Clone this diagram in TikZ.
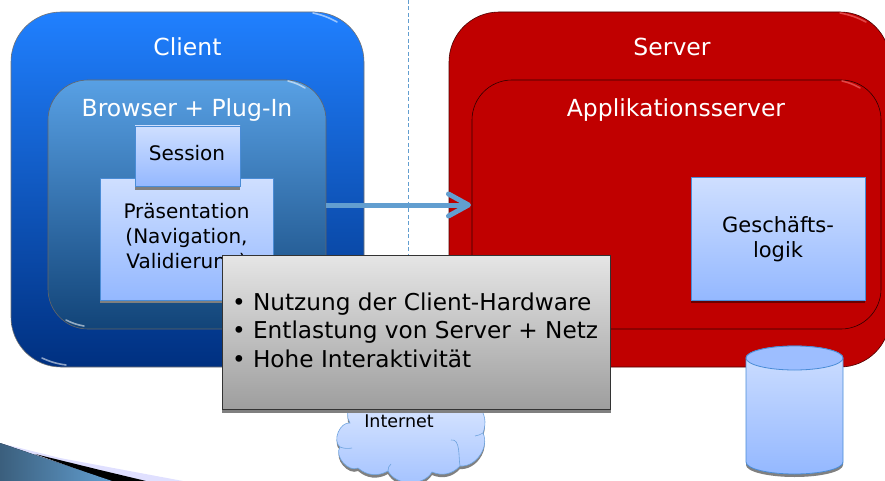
\documentclass[tikz,border=0pt]{standalone}
\usepackage{fontspec}
\setmainfont{DejaVu Sans}
\usetikzlibrary{arrows.meta}
\definecolor{paleblue}{RGB}{207,223,255}
\definecolor{midblue}{RGB}{148,184,255}
\definecolor{edgeblue}{RGB}{74,140,214}
\definecolor{arrowblue}{RGB}{98,158,208}
\definecolor{serverred}{RGB}{192,0,0}
\definecolor{clienttop}{RGB}{32,128,255}
\definecolor{clientbot}{RGB}{0,48,128}
\definecolor{browsertop}{RGB}{88,160,228}
\definecolor{browserbot}{RGB}{18,68,120}
\tikzset{
  x=1pt,y=-1pt,
  every node/.style={inner sep=0pt,outer sep=0pt,font=\fontsize{20}{25}\selectfont},
  lightbox/.style={draw=edgeblue,line width=0.8pt,top color=paleblue,bottom color=midblue},
  shadowstrip/.style={fill=black!50},
  gloss/.style={line width=1.6pt,line cap=round,opacity=0.55},
  paneltitle/.style={text=white,font=\fontsize{23.5}{28}\selectfont},
  boxtext/.style={text=black,align=center},
  puff/.style={bend right=#1,looseness=1},
}
\begin{document}
\begin{tikzpicture}
\useasboundingbox (0,0) rectangle (885,481);
\clip (0,0) rectangle (885,481);
% bottom-left swoosh
\fill[blue!12!white] (0,443) -- (60,458) -- (183,481) -- (0,481) -- cycle;
\fill[black] (35,454) -- (100,470) -- (146,481) -- (110,481) -- cycle;
\fill[left color=arrowblue!60!black,right color=arrowblue] (0,443) -- (112,481) -- (0,481) -- cycle;
% divider
\coordinate (divtop) at (408,0);
\coordinate (divbot) at (408,256);
\draw[arrowblue,line width=0.6pt,dash pattern=on 4pt off 2.5pt] (divtop) -- (divbot);
% client
\path[draw=black!55,line width=0.6pt,top color=clienttop,bottom color=clientbot,rounded corners=50pt] (11,12) rectangle (364,367);
\draw[gloss,white] (313,13) to[bend left=8] (337,22);
\draw[gloss,white] (42,358) to[bend right=8] (66,365);
\node[paneltitle] (client) at (187.5,47) {Client};
\path[draw=black!60,line width=0.6pt,top color=browsertop,bottom color=browserbot,rounded corners=40pt] (48,80) rectangle (326,329);
\draw[gloss,white] (288,81) to[bend left=8] (305,88);
\draw[gloss,white] (66,320) to[bend right=8] (84,326);
\node[paneltitle] (browser) at (187,110) {Browser + Plug-In};
\coordinate (browserE) at (326,205);
% presentation
\fill[shadowstrip] (100,300) rectangle (273,303);
\path[lightbox] (100,178) rectangle (273,300);
\node[boxtext] (praes) at (186.5,237.5) {Präsentation\\(Navigation,\\Validierung)};
\fill[shadowstrip] (135,186) rectangle (240,190);
\path[lightbox] (135,126) rectangle (240,186);
\node[boxtext] (session) at (187,153.5) {Session};
% server
\path[draw=black!60!serverred,line width=0.6pt,fill=serverred,rounded corners=50pt] (449,12) rectangle (890,367);
\draw[gloss,red!50!white] (840,13) to[bend left=8] (866,22);
\node[paneltitle] (server) at (672,47) {Server};
\path[draw=black!75!serverred,line width=0.6pt,rounded corners=40pt] (472,80) rectangle (881,329);
\draw[gloss,red!50!white] (842,81) to[bend left=8] (860,88);
\node[paneltitle] (appserver) at (676,110) {Applikationsserver};
\coordinate (appW) at (471,205);
% Geschaeftslogik
\fill[black!45!serverred] (691,300) rectangle (865,303);
\path[lightbox] (691,177) rectangle (865,300);
\node[boxtext,font=\fontsize{21}{25}\selectfont] (logik) at (778,239) {Geschäfts-\\logik};
% connector
\draw[arrowblue,line width=5pt,-{Straight Barb[length=20pt,width=22pt,line width=5pt,round]}] (browserE) -- (appW);
% cloud
\def\cloudpath{(352,405) to[puff=40] (350,423) to[puff=75] (340,447) to[puff=75] (358,468) to[puff=35] (388,471) to[puff=60] (432,472) to[puff=35] (460,466) to[puff=60] (483,433) to[puff=30] (478,405) -- cycle}
\begin{scope}[shift={(0,3)}]
\fill[black!50] \cloudpath;
\end{scope}
\path[draw=edgeblue!80,line width=0.6pt,top color=paleblue!85!white,bottom color=midblue!75!paleblue] \cloudpath;
\draw[edgeblue!80,line width=0.6pt] (340,447) to[bend right=15] (352,448);
\draw[edgeblue!80,line width=0.6pt] (388,471) to[bend left=25] (391,464);
\draw[edgeblue!80,line width=0.6pt] (460,466) to[out=100,in=10,looseness=.9] (451,440);
\draw[edgeblue!80,line width=0.6pt] (483,433) to[bend left=10] (475,436);
\node[text=black,font=\fontsize{17.5}{21}\selectfont] (internet) at (399,421.5) {Internet};
% database
\fill[black!50] (746,462) arc[start angle=180,end angle=0,x radius=48.5,y radius=12] -- ++(0,3) arc[start angle=0,end angle=180,x radius=48.5,y radius=12] -- cycle;
\path[draw=edgeblue,line width=0.8pt,top color=paleblue,bottom color=midblue] (746,358) -- (746,462) arc[start angle=180,end angle=0,x radius=48.5,y radius=12] -- (843,358) arc[start angle=360,end angle=180,x radius=48.5,y radius=12] -- cycle;
\path[draw=edgeblue,line width=0.8pt,fill=midblue!85!paleblue] (794.5,358) ellipse[x radius=48.5,y radius=12];
% note
\fill[black!50] (222,409) rectangle (611,413);
\path[draw=black!80,line width=0.9pt,top color=black!10,bottom color=black!38] (222,255) rectangle (610,409);
\node[anchor=west,text=black,align=left,font=\fontsize{23.2}{28.5}\selectfont] (note) at (232,330) {• Nutzung der Client-Hardware\\• Entlastung von Server + Netz\\• Hohe Interaktivität};
\end{tikzpicture}
\end{document}
